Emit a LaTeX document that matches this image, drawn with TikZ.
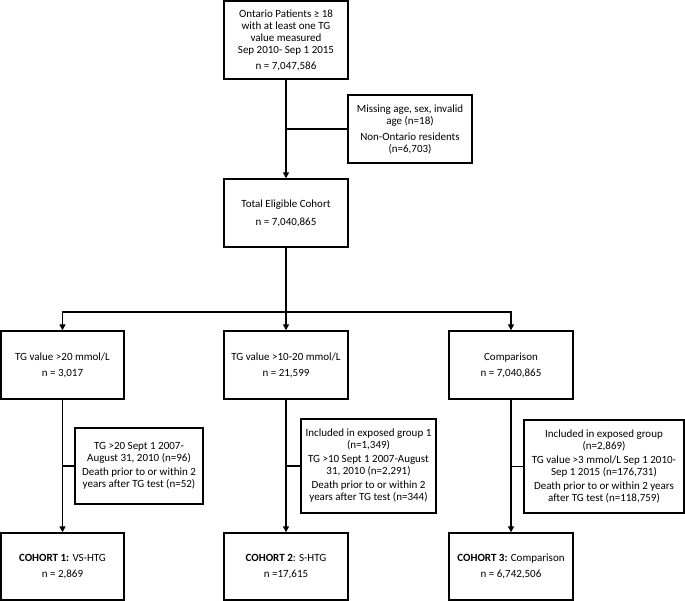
\documentclass[tikz,border=0pt]{standalone}
\usepackage{fontspec}
\setmainfont{Carlito}
\usetikzlibrary{arrows.meta}

\tikzstyle{box}=[rectangle,draw,line width=1.4pt,align=center,inner sep=0pt,minimum width=124pt,minimum height=68pt,font=\fontsize{11}{12}\selectfont]
\tikzstyle{link}=[draw,line width=1.4pt,-]

\begin{document}
\begin{tikzpicture}[x=1pt, y=-1pt, ->, >={Triangle[length=6pt,width=6pt]}, line width=1.4pt]
		\useasboundingbox (0,0) rectangle (685,601);
		\node [box, minimum height=78pt] (ontario)  at (286,40)    {Ontario Patients ≥ 18\\with at least one TG\\value measured\\Sep 2010- Sep 1 2015\\[4pt]n = 7,047,586};
		\node [box]                      (missing)  at (410,129)   {Missing age, sex, invalid\\age (n=18)\\[4pt]Non-Ontario residents\\(n=6,703)};
		\node [box]                      (eligible) at (286,213)   {Total Eligible Cohort\\[6pt]n = 7,040,865};
		\node [box, minimum width=123pt] (vshtg)    at (62.5,365)  {TG value >20 mmol/L\\[4pt]n = 3,017};
		\node [box]                      (shtg)     at (286,365)   {TG value >10-20 mmol/L\\[4pt]n = 21,599};
		\node [box]                      (comp)     at (511,365)   {Comparison\\[4pt]n = 7,040,865};
		\node [box, minimum width=128pt, minimum height=76pt] (excl1) at (139,466)   {TG >20 Sept 1 2007-\\August 31, 2010 (n=96)\\[2pt]Death prior to or within 2\\years after TG test (n=52)};
		\node [box, minimum width=135pt, minimum height=94pt] (excl2) at (368.5,466) {Included in exposed group 1\\(n=1,349)\\[2pt]TG >10 Sept 1 2007-August\\31, 2010 (n=2,291)\\[2pt]Death prior to or within 2\\years after TG test (n=344)};
		\node [box, minimum width=160pt, minimum height=93pt] (excl3) at (604,466.5) {Included in exposed group\\(n=2,869)\\[2pt]TG value >3 mmol/L Sep 1 2010-\\Sep 1 2015 (n=176,731)\\[2pt]Death prior to or within 2 years\\after TG test (n=118,759)};
		\node [box, minimum width=123pt, minimum height=67pt] (cohort1) at (62.5,566.5) {\textbf{COHORT 1:} VS-HTG\\[4pt]n = 2,869};
		\node [box, minimum height=67pt] (cohort2) at (286,566.5) {\textbf{COHORT 2}: S-HTG\\[4pt]n =17,615};
		\node [box, minimum height=67pt] (cohort3) at (511,566.5) {\textbf{COHORT 3:} Comparison\\[4pt]n = 6,742,506};
		\coordinate (split) at (286,312);

		\draw (ontario) -- (eligible);
		\draw [link] (ontario.south |- missing.west) -- (missing.west);
		\draw [link] (eligible) -- (split);
		\draw (split) -| (vshtg);
		\draw (split) -- (shtg);
		\draw (split) -| (comp);
		\draw (vshtg) -- (cohort1);
		\draw (shtg)  -- (cohort2);
		\draw (comp)  -- (cohort3);
		\draw [link] (vshtg.south |- excl1.west) -- (excl1.west);
		\draw [link] (shtg.south |- excl2.west)  -- (excl2.west);
		\draw [link] (comp.south |- excl3.west)  -- (excl3.west);
	\end{tikzpicture}
\end{document}
